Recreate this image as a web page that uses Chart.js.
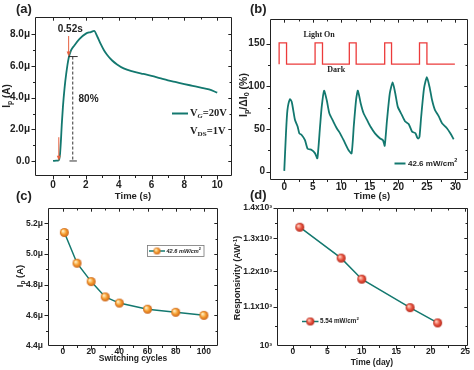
<!DOCTYPE html>
<html>
<head>
<meta charset="utf-8">
<script src="https://cdn.jsdelivr.net/npm/chart.js@4.4.1/dist/chart.umd.min.js"></script>
<style>
    body { margin: 0; background: #fff; width: 474px; height: 370px; position: relative; overflow: hidden; }
    canvas { position: absolute; left: 0; top: 0; }
</style>
</head>
<body>
<canvas id="chartA" width="474" height="370"></canvas>
<canvas id="chartB" width="474" height="370"></canvas>
<canvas id="chartC" width="474" height="370"></canvas>
<canvas id="chartD" width="474" height="370"></canvas>
<script>
// ---- panel (a): photocurrent vs time (values in µA)
const timeA = [0, 0.2, 0.35, 0.42, 0.48, 0.53, 0.6, 0.7, 0.8, 0.95, 1.1, 1.3, 1.6, 2.0, 2.3, 2.5,
    2.7, 2.9, 3.1, 3.3, 3.6, 3.9, 4.3, 4.9, 5.5, 6.0, 6.5, 7.0, 7.5, 8.0, 8.5, 9.0, 9.5, 10.0];
const currentA = [0, 0.02, 0.05, 0.4, 1.3, 2.3, 3.4, 4.6, 5.5, 6.5, 7.0, 7.3, 7.7, 8.05, 8.15, 8.22,
    7.85, 7.4, 7.0, 6.7, 6.35, 6.1, 5.85, 5.65, 5.5, 5.38, 5.24, 5.1, 4.98, 4.86, 4.75, 4.64, 4.52, 4.32];
const xTicksA = [0, 2, 4, 6, 8, 10];
const yTicksA = [0, 2, 4, 6, 8];

// ---- panel (b): normalised photoresponse under switching light
const timeB = [0, 0.3, 0.55, 1.0, 1.3, 1.58, 1.87, 2.34, 2.64, 3.05, 3.63, 4.1, 4.8, 5.4, 5.8,
    6.27, 6.56, 6.97, 7.44, 7.9, 8.6, 9.2, 9.78, 10.4, 11.25, 11.8,
    12.2, 12.6, 12.9, 13.4, 13.9, 14.5, 15.1, 15.9, 16.8, 17.3, 17.6,
    18.0, 18.5, 19.0, 19.45, 19.9, 20.6, 21.2, 21.8, 22.4, 23.0, 23.3, 23.5, 23.7,
    24.0, 24.5, 25.0, 25.5, 25.9, 26.4, 27.1, 27.65, 28.5, 29.1, 29.7];
const ratioB = [1, 45, 72, 85, 82, 72, 61, 53, 45, 43, 37, 27, 25.5, 21.5, 15.7,
    53, 76, 95, 84, 68.5, 58.8, 51, 45, 37, 25.5, 21.5,
    55, 85, 95, 80, 68.5, 60.7, 53, 45, 39, 37, 30.5,
    60, 92, 104.6, 92, 76, 66.6, 58.8, 56, 47, 45, 40, 39, 41,
    65, 98, 110.8, 98, 84, 72.5, 64.6, 56.8, 51, 45, 38];
const lightT = [-0.9, -0.9, 0.4, 0.4, 5.4, 5.4, 6.7, 6.7, 11.4, 11.4, 12.6, 12.6,
    17.6, 17.6, 18.8, 18.8, 23.7, 23.7, 25.0, 25.0, 29.9];
const lightLevel = [126, 151, 151, 126, 126, 151, 151, 126, 126, 151, 151, 126,
    126, 151, 151, 126, 126, 151, 151, 126, 126];
const xTicksB = [0, 5, 10, 15, 20, 25, 30];
const yTicksB = [0, 50, 100, 150];

// ---- panel (c): photocurrent vs switching cycles (µA)
const cycles = [1, 10, 20, 30, 40, 60, 80, 100];
const currentC = [5.14, 4.94, 4.82, 4.72, 4.68, 4.64, 4.62, 4.60];
const xTicksC = [0, 20, 40, 60, 80, 100];
const yTicksC = [4.4, 4.6, 4.8, 5.0, 5.2];

// ---- panel (d): responsivity vs storage time
const days = [1, 7, 10, 17, 21];
const respD = [1336, 1239, 1177, 1098, 1058];
const xTicksD = [0, 5, 10, 15, 20, 25];
const yTicksD = [1000, 1100, 1200, 1300, 1400];

const TEAL = '#13786f';
const RED = '#ec3b3b';
const INK = '#222';
const SANS = '"Liberation Sans", Arial, sans-serif';
const SERIF = '"Liberation Serif", "Times New Roman", serif';

function midpoints(arr) {
    const out = [];
    for (let i = 1; i < arr.length; i++) out.push((arr[i - 1] + arr[i]) / 2);
    return out;
}

function sphere(light, base, dark, r) {
    const c = document.createElement('canvas');
    const s = Math.ceil(r * 2 + 2);
    c.width = c.height = s;
    const g = c.getContext('2d');
    const gr = g.createRadialGradient(s / 2 - r * 0.35, s / 2 - r * 0.35, r * 0.1, s / 2, s / 2, r);
    gr.addColorStop(0, light);
    gr.addColorStop(0.55, base);
    gr.addColorStop(1, dark);
    g.fillStyle = gr;
    g.beginPath();
    g.arc(s / 2, s / 2, r, 0, Math.PI * 2);
    g.fill();
    return c;
}
const orangeBall = sphere('#fff1c8', '#f59b2c', '#c9621a', 4.5);
const redBall = sphere('#ffd2c4', '#e8523e', '#b3281b', 4.5);
const orangeSmall = sphere('#fff1c8', '#f59b2c', '#c9621a', 3.5);
const redSmall = sphere('#ffd2c4', '#e8523e', '#b3281b', 4);

// text made of pieces: [text, 'sub' | 'sup' | '', unused, style]
function richText(ctx, parts, x, y, size, family, weight, align) {
    const fontOf = (p) => {
        const s = p[1] ? size * 0.68 : size;
        return (p[3] || '') + ' ' + weight + ' ' + s + 'px ' + family;
    };
    let total = 0;
    parts.forEach(p => { ctx.font = fontOf(p); total += ctx.measureText(p[0]).width; });
    let cx = align === 'center' ? x - total / 2 : x;
    ctx.textAlign = 'left';
    ctx.textBaseline = 'middle';
    parts.forEach(p => {
        ctx.font = fontOf(p);
        const dy = p[1] === 'sub' ? size * 0.3 : p[1] === 'sup' ? -size * 0.35 : 0;
        ctx.fillText(p[0], cx, y + dy);
        cx += ctx.measureText(p[0]).width;
    });
}

function vertical(ctx, x, y, fn) {
    ctx.save();
    ctx.translate(x, y);
    ctx.rotate(-Math.PI / 2);
    fn();
    ctx.restore();
}

// frame with major/minor ticks, out on bottom/left, in on top/right
function drawFrame(chart, xMajor, yMajor) {
    const ctx = chart.ctx;
    const xs = chart.scales.x, ys = chart.scales.y;
    const xMinor = midpoints(xMajor), yMinor = midpoints(yMajor);
    const l = Math.round(xs.left) + 0.5, r = Math.round(xs.right) - 0.5;
    const t = Math.round(ys.top) + 0.5, b = Math.round(ys.bottom) - 0.5;
    ctx.save();
    ctx.strokeStyle = INK;
    ctx.lineWidth = 1;
    ctx.setLineDash([]);
    ctx.beginPath();
    ctx.moveTo(l, t); ctx.lineTo(r, t); ctx.lineTo(r, b); ctx.lineTo(l, b); ctx.closePath();
    const tickX = (v, len) => {
        const px = Math.round(xs.getPixelForValue(v)) + 0.5;
        if (px < l || px > r) return;
        ctx.moveTo(px, b); ctx.lineTo(px, b + len);
        ctx.moveTo(px, t); ctx.lineTo(px, t + len * 0.8);
    };
    const tickY = (v, len) => {
        const py = Math.round(ys.getPixelForValue(v)) + 0.5;
        if (py < t || py > b) return;
        ctx.moveTo(l, py); ctx.lineTo(l - len, py);
        ctx.moveTo(r, py); ctx.lineTo(r - len * 0.8, py);
    };
    xMajor.forEach(v => tickX(v, 4));
    xMinor.forEach(v => tickX(v, 2.5));
    yMajor.forEach(v => tickY(v, 4));
    yMinor.forEach(v => tickY(v, 2.5));
    ctx.stroke();
    ctx.restore();
}

function arrowDown(ctx, x, y1, y2, color) {
    ctx.save();
    ctx.strokeStyle = color;
    ctx.fillStyle = color;
    ctx.lineWidth = 1;
    ctx.beginPath();
    ctx.moveTo(x, y1); ctx.lineTo(x, y2 - 4);
    ctx.stroke();
    ctx.beginPath();
    ctx.moveTo(x - 2, y2 - 5); ctx.lineTo(x + 2, y2 - 5); ctx.lineTo(x, y2);
    ctx.closePath();
    ctx.fill();
    ctx.restore();
}

/**
 * Builds one panel so that its plot area lands on the given box (page px)
 */
function makePanel(id, box, datasets, axes, extra) {
    const ctx = document.getElementById(id).getContext('2d');
    return new Chart(ctx, {
        type: 'scatter',
        data: { datasets },
        options: {
            responsive: false,
            animation: false,
            events: [],
            layout: { padding: { left: 0, top: box.top, right: 474 - box.right, bottom: 0 } },
            plugins: { legend: { display: false }, tooltip: { enabled: false } },
            scales: {
                x: {
                    type: 'linear',
                    min: axes.xMin, max: axes.xMax,
                    afterBuildTicks: s => { s.ticks = axes.xTicks.map(v => ({ value: v })); },
                    afterFit: s => { s.height = 370 - box.bottom; },
                    grid: { display: false, drawTicks: false, tickLength: 0 },
                    border: { display: false },
                    ticks: {
                        autoSkip: false, maxRotation: 0,
                        padding: axes.xPad,
                        color: INK,
                        font: { family: SANS, size: axes.tickSize, weight: 'bold' },
                        callback: v => String(v)
                    }
                },
                y: {
                    type: axes.yType || 'linear',
                    min: axes.yMin, max: axes.yMax,
                    afterBuildTicks: s => { s.ticks = axes.yTicks.map(v => ({ value: v })); },
                    afterFit: s => { s.width = box.left; },
                    grid: { display: false, drawTicks: false, tickLength: 0 },
                    border: { display: false },
                    ticks: {
                        autoSkip: false,
                        padding: 5,
                        color: INK,
                        font: { family: SANS, size: axes.tickSize, weight: 'bold' },
                        callback: axes.yLabel
                    }
                }
            }
        },
        plugins: [{
            id: 'extras',
            afterDraw(chart) {
                const c = chart.ctx;
                drawFrame(chart, axes.xTicks, axes.yTicks);
                c.save();
                c.fillStyle = INK;
                extra(chart, c, chart.scales.x, chart.scales.y);
                c.restore();
            }
        }]
    });
}

const pairs = (xs, ys) => xs.map((x, i) => ({ x, y: ys[i] }));

// (a)
makePanel('chartA', { left: 35, top: 17, right: 232, bottom: 176 }, [
    { data: pairs(timeA, currentA), showLine: true, borderColor: TEAL, borderWidth: 1.8,
      pointRadius: 0, tension: 0.3, cubicInterpolationMode: 'monotone' }
], {
    xMin: -1.1, xMax: 10.9, yMin: -0.95, yMax: 9.1,
    xTicks: xTicksA, yTicks: yTicksA, tickSize: 10, xPad: 3,
    yLabel: v => v === 0 ? '0.0' : v.toFixed(1) + 'μ'
}, (chart, ctx, x, y) => {
    ctx.font = 'bold 13px ' + SANS;
    ctx.textAlign = 'left'; ctx.textBaseline = 'middle';
    ctx.fillText('(a)', 16, 9);
    // rise markers
    arrowDown(ctx, x.getPixelForValue(0.35), y.getPixelForValue(1.5), y.getPixelForValue(0.02), '#e6603f');
    arrowDown(ctx, x.getPixelForValue(0.95), y.getPixelForValue(7.9), y.getPixelForValue(6.6), '#e6603f');
    const dx = x.getPixelForValue(1.2);
    ctx.save();
    ctx.strokeStyle = '#333'; ctx.lineWidth = 1;
    ctx.setLineDash([3, 2]);
    ctx.beginPath();
    ctx.moveTo(dx, y.getPixelForValue(6.6)); ctx.lineTo(dx, y.getPixelForValue(0));
    ctx.stroke();
    ctx.setLineDash([]);
    ctx.beginPath();
    ctx.moveTo(x.getPixelForValue(0.95), y.getPixelForValue(6.6)); ctx.lineTo(x.getPixelForValue(1.5), y.getPixelForValue(6.6));
    ctx.moveTo(x.getPixelForValue(1.0), y.getPixelForValue(0)); ctx.lineTo(x.getPixelForValue(1.45), y.getPixelForValue(0));
    ctx.stroke();
    ctx.restore();
    ctx.font = 'bold 10px ' + SANS;
    ctx.textAlign = 'center';
    ctx.fillText('0.52s', x.getPixelForValue(1.05), y.getPixelForValue(8.35));
    ctx.textAlign = 'left';
    ctx.fillText('80%', x.getPixelForValue(1.55), y.getPixelForValue(3.9));
    // legend
    ctx.save();
    ctx.strokeStyle = TEAL; ctx.lineWidth = 2;
    ctx.beginPath(); ctx.moveTo(172, 113.5); ctx.lineTo(188, 113.5); ctx.stroke();
    ctx.restore();
    richText(ctx, [['V', ''], ['G', 'sub', null, 'italic'], ['=20V', '']], 190, 113, 10.5, SERIF, 'bold', 'left');
    richText(ctx, [['V', ''], ['DS', 'sub'], ['=1V', '']], 190, 131, 10.5, SERIF, 'bold', 'left');
    // axis titles
    richText(ctx, [['Time (s)', '']], 133, 196, 9.5, SANS, 'bold', 'center');
    vertical(ctx, 7, 96, () => richText(ctx, [['I', ''], ['p', 'sub'], [' (A)', '']], 0, 0, 10, SANS, 'bold', 'center'));
});

// (b)
makePanel('chartB', { left: 270, top: 19, right: 468, bottom: 180 }, [
    { data: pairs(lightT, lightLevel), showLine: true, borderColor: RED, borderWidth: 1.3, pointRadius: 0 },
    { data: pairs(timeB, ratioB), showLine: true, borderColor: TEAL, borderWidth: 1.8, pointRadius: 0, tension: 0.2 }
], {
    xMin: -2.5, xMax: 32.2, yMin: -9.7, yMax: 179,
    xTicks: xTicksB, yTicks: yTicksB, tickSize: 10, xPad: 1,
    yLabel: v => String(v)
}, (chart, ctx, x, y) => {
    ctx.font = 'bold 13px ' + SANS;
    ctx.textAlign = 'left'; ctx.textBaseline = 'middle';
    ctx.fillText('(b)', 250, 9);
    richText(ctx, [['Light On', '']], x.getPixelForValue(6.1), y.getPixelForValue(160.5), 8, SERIF, 'bold', 'center');
    richText(ctx, [['Dark', '']], x.getPixelForValue(9.1), y.getPixelForValue(119.5), 8, SERIF, 'bold', 'center');
    ctx.save();
    ctx.strokeStyle = TEAL; ctx.lineWidth = 2;
    ctx.beginPath(); ctx.moveTo(394.5, 163.5); ctx.lineTo(405.5, 163.5); ctx.stroke();
    ctx.restore();
    richText(ctx, [['42.6 mW/cm', ''], ['2', 'sup']], 408, 163.5, 8, SANS, 'bold', 'left');
    richText(ctx, [['Time (s)', '']], 372, 196.5, 9.5, SANS, 'bold', 'center');
    vertical(ctx, 244, 95, () => richText(ctx, [['I', ''], ['p', 'sub'], ['/ΔI', ''], ['0', 'sub'], [' (%)', '']], 0, 0, 10.5, SANS, 'bold', 'center'));
});

// (c)
makePanel('chartC', { left: 48, top: 208, right: 218, bottom: 346 }, [
    { data: pairs(cycles, currentC), showLine: true, borderColor: TEAL, borderWidth: 1.5,
      pointStyle: orangeBall, pointRadius: 4.5 }
], {
    xMin: -10.6, xMax: 110, yMin: 4.4, yMax: 5.3,
    xTicks: xTicksC, yTicks: yTicksC, tickSize: 8.5, xPad: 1,
    yLabel: v => v.toFixed(1) + 'μ'
}, (chart, ctx, x, y) => {
    ctx.font = 'bold 13px ' + SANS;
    ctx.textAlign = 'left'; ctx.textBaseline = 'middle';
    ctx.fillText('(c)', 16, 196);
    // legend box
    ctx.save();
    ctx.strokeStyle = '#777'; ctx.lineWidth = 0.8;
    ctx.strokeRect(147.5, 245.5, 56.5, 11);
    ctx.strokeStyle = TEAL; ctx.lineWidth = 1.5;
    ctx.beginPath(); ctx.moveTo(149, 251); ctx.lineTo(165, 251); ctx.stroke();
    ctx.drawImage(orangeSmall, 157 - orangeSmall.width / 2, 251 - orangeSmall.height / 2);
    ctx.restore();
    richText(ctx, [['42.6 mW/cm', '', null, 'italic'], ['2', 'sup']], 166.5, 251, 5.6, SANS, 'bold', 'left');
    richText(ctx, [['Switching cycles', '']], 133, 359, 8.5, SANS, 'bold', 'center');
    vertical(ctx, 20, 276, () => richText(ctx, [['I', ''], ['p', 'sub'], [' (A)', '']], 0, 0, 9.5, SANS, 'bold', 'center'));
});

// (d)
makePanel('chartD', { left: 277, top: 208, right: 468, bottom: 346 }, [
    { data: pairs(days, respD), showLine: true, borderColor: TEAL, borderWidth: 1.5,
      pointStyle: redBall, pointRadius: 4.5 }
], {
    xMin: -2.3, xMax: 25.4, yMin: 1000, yMax: 1400, yType: 'logarithmic',
    xTicks: xTicksD, yTicks: yTicksD, tickSize: 8.5, xPad: 1,
    yLabel: v => v === 1000 ? '10³' : (v / 1000).toFixed(1) + 'x10³'
}, (chart, ctx, x, y) => {
    ctx.font = 'bold 13px ' + SANS;
    ctx.textAlign = 'left'; ctx.textBaseline = 'middle';
    ctx.fillText('(d)', 250, 195);
    ctx.save();
    ctx.strokeStyle = TEAL; ctx.lineWidth = 1.5;
    ctx.beginPath(); ctx.moveTo(302, 321.5); ctx.lineTo(318.5, 321.5); ctx.stroke();
    ctx.drawImage(redSmall, 310.3 - redSmall.width / 2, 321.5 - redSmall.height / 2);
    ctx.restore();
    richText(ctx, [['5.54 mW/cm', ''], ['2', 'sup']], 320, 321.5, 6.3, SANS, 'bold', 'left');
    richText(ctx, [['Time (day)', '']], 372, 363, 8.5, SANS, 'bold', 'center');
    vertical(ctx, 238, 278, () => richText(ctx, [['Responsivity (AW', ''], ['-1', 'sup'], [')', '']], 0, 0, 9, SANS, 'bold', 'center'));
});
</script>
</body>
</html>
